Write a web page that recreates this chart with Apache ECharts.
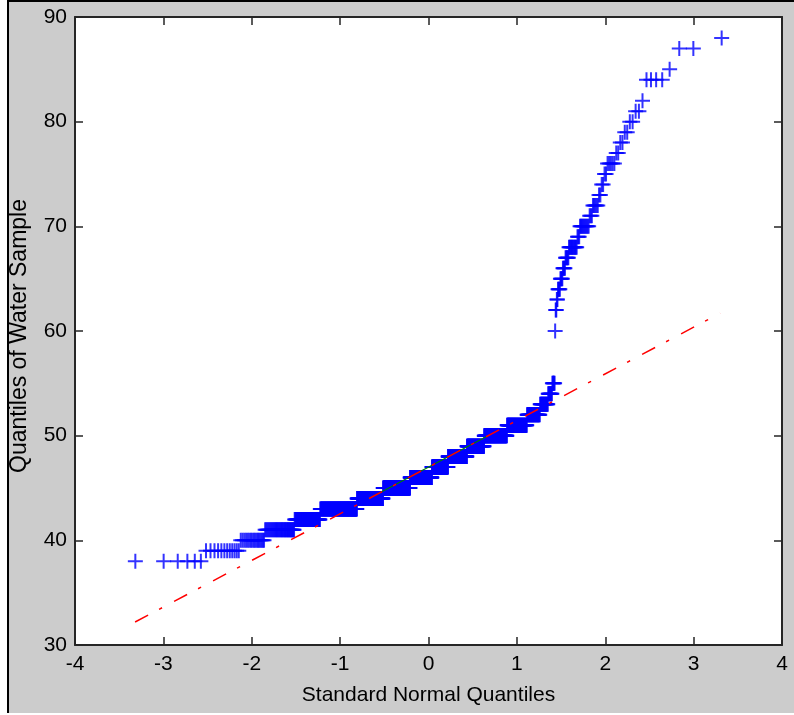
<!DOCTYPE html>
<html>
<head>
<meta charset="utf-8">
<script src="https://cdn.jsdelivr.net/npm/echarts@6/dist/echarts.min.js"></script>
<style>
  html, body { margin: 0; padding: 0; background: #ffffff; }
  #frame {
    position: absolute; left: 7px; top: 0; width: 785px; height: 711px;
    background: #cccccc; border-top: 2px solid #000; border-left: 2px solid #000;
  }
  #chart { position: absolute; left: 0; top: 0; width: 794px; height: 715px; }
</style>
</head>
<body>
<div id="frame"></div>
<div id="chart"></div>
<script>
// Water sample readings: each distinct value and how many readings took it
const sampleValues = [38, 39, 40, 41, 42, 43, 44, 45, 46, 47, 48, 49, 50, 51, 52, 53, 54, 55,
                      60, 62, 63, 64, 65, 66, 67, 68, 69, 70, 71, 72, 73, 74, 75, 76, 77, 78,
                      79, 80, 81, 82, 84, 85, 87, 88];
const sampleCounts = [6, 12, 17, 36, 50, 109, 104, 125, 108, 79, 89, 74, 85, 60, 32, 17, 8, 5,
                      1, 2, 2, 4, 4, 4, 5, 11, 3, 10, 3, 5, 2, 2, 2, 5, 2, 2,
                      2, 2, 2, 1, 4, 1, 2, 1];

// Reference line through the first and third quartiles, and its extension
const quartileX = [-0.674, 0.674];
const quartileY = [44, 50];
const fitLineX = [-3.32, 3.3];
const fitLineY = [32.2, 61.7];

// Axis ranges and tick spacing
const xRange = [-4, 4], xStep = 1;
const yRange = [30, 90], yStep = 10;

// Inverse standard normal CDF (Acklam's rational approximation)
function probit(p) {
  const a = [-3.969683028665376e+01, 2.209460984245205e+02, -2.759285104469687e+02,
             1.383577518672690e+02, -3.066479806614716e+01, 2.506628277459239e+00];
  const b = [-5.447609879822406e+01, 1.615858368580409e+02, -1.556989798598866e+02,
             6.680131188771972e+01, -1.328068155288572e+01];
  const c = [-7.784894002430293e-03, -3.223964580411365e-01, -2.400758277161838e+00,
             -2.549732539343734e+00, 4.374664141464968e+00, 2.938163982698783e+00];
  const d = [7.784695709041462e-03, 3.224671290700398e-01, 2.445134137142996e+00,
             3.754408661907416e+00];
  const pl = 0.02425, ph = 1 - pl;
  let q, r;
  if (p < pl) {
    q = Math.sqrt(-2 * Math.log(p));
    return (((((c[0]*q+c[1])*q+c[2])*q+c[3])*q+c[4])*q+c[5]) / ((((d[0]*q+d[1])*q+d[2])*q+d[3])*q+1);
  }
  if (p > ph) {
    q = Math.sqrt(-2 * Math.log(1 - p));
    return -(((((c[0]*q+c[1])*q+c[2])*q+c[3])*q+c[4])*q+c[5]) / ((((d[0]*q+d[1])*q+d[2])*q+d[3])*q+1);
  }
  q = p - 0.5; r = q * q;
  return (((((a[0]*r+a[1])*r+a[2])*r+a[3])*r+a[4])*r+a[5])*q / (((((b[0]*r+b[1])*r+b[2])*r+b[3])*r+b[4])*r+1);
}

// Sorted sample against standard normal quantiles at (i - 0.5) / n
const sorted = [];
sampleValues.forEach((v, k) => { for (let j = 0; j < sampleCounts[k]; j++) sorted.push(v); });
const n = sorted.length;
const qqPoints = sorted.map((v, i) => [probit((i + 0.5) / n), v]);

const plusPath = 'path://M0,6.5L15,6.5L15,8.5L0,8.5Z M6.5,0L8.5,0L8.5,15L6.5,15Z';
const axisColor = '#262626';
const font = 'Liberation Sans, Arial, sans-serif';

function valueAxis(pos, range, step, showLabels, extra) {
  return Object.assign({
    type: 'value', position: pos, min: range[0], max: range[1], interval: step,
    axisLine: { show: true, onZero: false, lineStyle: { color: axisColor, width: 2 } },
    axisTick: { show: true, inside: true, length: 8, lineStyle: { color: axisColor, width: 1.5 } },
    axisLabel: { show: showLabels, color: '#000', fontFamily: font, fontSize: 21 },
    splitLine: { show: false }
  }, extra || {});
}

const chart = echarts.init(document.getElementById('chart'), null, { renderer: 'canvas' });
chart.setOption({
  animation: false,
  backgroundColor: 'transparent',
  grid: { left: 75, right: 12, top: 17, bottom: 70, show: true, backgroundColor: '#ffffff', borderWidth: 0 },
  xAxis: [
    valueAxis('bottom', xRange, xStep, true, {
      name: 'Standard Normal Quantiles', nameLocation: 'middle', nameGap: 40,
      nameTextStyle: { color: '#000', fontFamily: font, fontSize: 21 },
      axisLabel: { show: true, color: '#000', fontFamily: font, fontSize: 21, margin: 9 }
    }),
    valueAxis('top', xRange, xStep, false)
  ],
  yAxis: [
    valueAxis('left', yRange, yStep, true, {
      name: 'Quantiles of Water Sample', nameLocation: 'middle', nameGap: 44,
      nameTextStyle: { color: '#000', fontFamily: font, fontSize: 23, padding: [0, 10, 0, 0] },
      axisLabel: { show: true, color: '#000', fontFamily: font, fontSize: 21, margin: 8 }
    }),
    valueAxis('right', yRange, yStep, false)
  ],
  series: [
    {
      type: 'scatter', xAxisIndex: 0, yAxisIndex: 0, data: qqPoints,
      symbol: plusPath, symbolSize: 15, symbolKeepAspect: false,
      itemStyle: { color: '#0000ff' }, silent: true, z: 2
    },
    {
      type: 'line', xAxisIndex: 0, yAxisIndex: 0,
      data: quartileX.map((x, i) => [x, quartileY[i]]),
      showSymbol: false, silent: true, z: 3,
      lineStyle: { color: '#008000', width: 1.2, type: 'solid' }
    },
    {
      type: 'line', xAxisIndex: 0, yAxisIndex: 0,
      data: fitLineX.map((x, i) => [x, fitLineY[i]]),
      showSymbol: false, silent: true, z: 4,
      lineStyle: { color: '#ff0000', width: 1.5, type: [14.7, 12.4, 3.4, 13.6] }
    }
  ]
});
</script>
</body>
</html>
